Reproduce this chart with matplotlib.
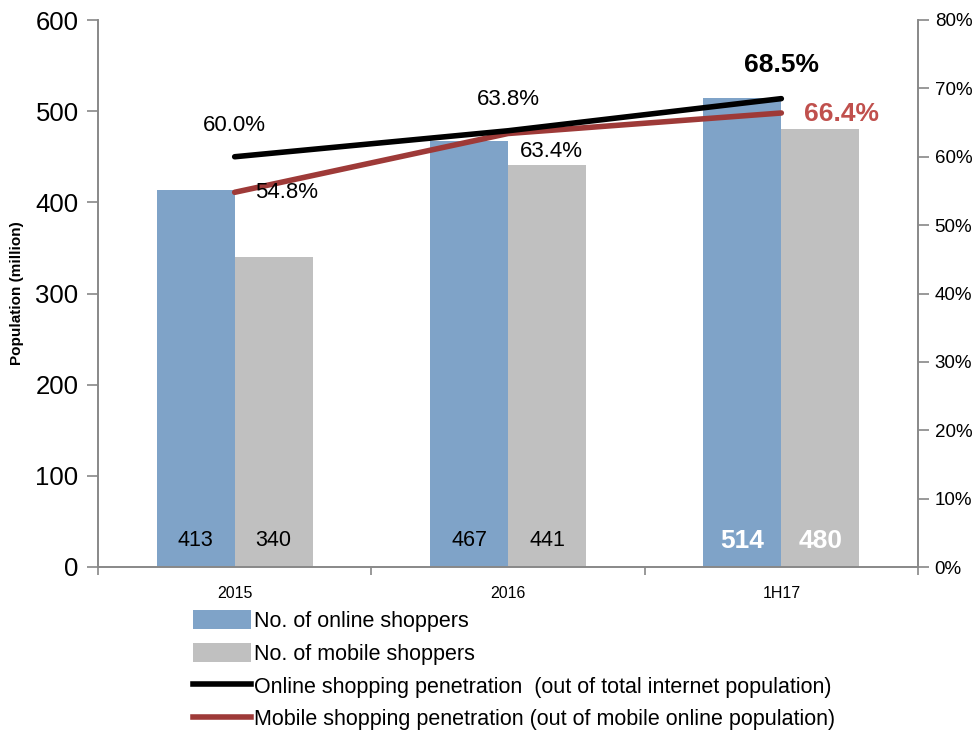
import matplotlib
matplotlib.use("Agg")
import matplotlib.pyplot as plt
import numpy as np
from matplotlib.patches import Patch
from matplotlib.lines import Line2D

plt.rcParams['font.family'] = ['Liberation Sans', 'DejaVu Sans']

categories = ["2015", "2016", "1H17"]
online_shoppers = [413, 467, 514]
mobile_shoppers = [340, 441, 480]
online_pen = [60.0, 63.8, 68.5]
mobile_pen = [54.8, 63.4, 66.4]

blue = "#7FA3C8"
gray = "#C0C0C0"
red_line = "#9E3A38"
red_text = "#C0504D"
spine_c = "#888888"

fig = plt.figure(figsize=(9.74, 7.33), dpi=100)
ax = fig.add_axes([98/974, 1-567/733, 820/974, 547/733])
ax2 = ax.twinx()

x = np.arange(len(categories))
w = 0.285
ax.bar(x - w/2, online_shoppers, w, color=blue, zorder=2)
ax.bar(x + w/2, mobile_shoppers, w, color=gray, zorder=2)
ax.set_xlim(-0.5, 2.5)
ax.set_ylim(0, 600)
ax.set_yticks(range(0, 601, 100))
ax.set_ylabel("Population (million)", fontsize=11, fontweight='bold', labelpad=8)
ax.tick_params(axis='y', labelsize=18.5, length=8, color=spine_c, width=1.2, direction='out', pad=6)
ax.set_xticks(x)
ax.set_xticklabels(categories, fontsize=11.5)
ax.tick_params(axis='x', length=0, pad=14)
ax.set_xticks([-0.5, 0.5, 1.5, 2.5], minor=True)
ax.tick_params(axis='x', which='minor', length=6, color=spine_c, width=1.2)
for s in ['top']:
    ax.spines[s].set_visible(False)
    ax2.spines[s].set_visible(False)
for s in ['left', 'bottom', 'right']:
    ax.spines[s].set_color(spine_c)
    ax.spines[s].set_linewidth(1.2)
    ax2.spines[s].set_color(spine_c)
    ax2.spines[s].set_linewidth(1.2)

for i in range(len(categories)):
    bold = (i == len(categories) - 1)
    tc = 'white' if bold else 'black'
    fs = 19 if bold else 15.5
    fw = 'bold' if bold else 'normal'
    ax.text(x[i] - w/2, 29, str(online_shoppers[i]), ha='center', va='center', fontsize=fs, color=tc, fontweight=fw, zorder=5)
    ax.text(x[i] + w/2, 29, str(mobile_shoppers[i]), ha='center', va='center', fontsize=fs, color=tc, fontweight=fw, zorder=5)

ax2.plot(x, online_pen, color='black', lw=4, solid_capstyle='round', zorder=4)
ax2.plot(x, mobile_pen, color=red_line, lw=4, solid_capstyle='round', zorder=3)
ax2.set_ylim(0, 80)
ax2.set_yticks(range(0, 81, 10))
ax2.set_yticklabels([f"{v}%" for v in range(0, 81, 10)])
ax2.tick_params(axis='y', labelsize=13.5, length=8, color=spine_c, width=1.2, direction='out', pad=4)
ax.set_zorder(1)
ax2.set_zorder(2)
ax.patch.set_visible(False)

# line labels
ax2.text(x[0], online_pen[0] + 4.6, f"{online_pen[0]:.1f}%", ha='center', va='center', fontsize=16)
ax2.text(x[0] + 0.19, mobile_pen[0] - 0.1, f"{mobile_pen[0]:.1f}%", ha='center', va='center', fontsize=16)
ax2.text(x[1], online_pen[1] + 4.5, f"{online_pen[1]:.1f}%", ha='center', va='center', fontsize=16)
ax2.text(x[1] + 0.16, mobile_pen[1] - 2.7, f"{mobile_pen[1]:.1f}%", ha='center', va='center', fontsize=16)
ax2.text(x[2], online_pen[2] + 4.9, f"{online_pen[2]:.1f}%", ha='center', va='center', fontsize=19, fontweight='bold')
ax2.text(x[2] + 0.22, mobile_pen[2] - 0.1, f"{mobile_pen[2]:.1f}%", ha='center', va='center', fontsize=19, fontweight='bold', color=red_text)

handles = [
    Patch(facecolor=blue, edgecolor='none'),
    Patch(facecolor=gray, edgecolor='none'),
    Line2D([0], [0], color='black', lw=4),
    Line2D([0], [0], color=red_line, lw=4),
]
labels = [
    "No. of online shoppers",
    "No. of mobile shoppers",
    "Online shopping penetration  (out of total internet population)",
    "Mobile shopping penetration (out of mobile online population)",
]
fig.legend(handles, labels, loc='upper left', bbox_to_anchor=(193/974, 1-610/733),
           frameon=False, fontsize=15.5, handlelength=2.7, handleheight=1.0,
           handletextpad=0.15, labelspacing=0.5, borderaxespad=0, borderpad=0)

fig.savefig("out.png", dpi=100)
